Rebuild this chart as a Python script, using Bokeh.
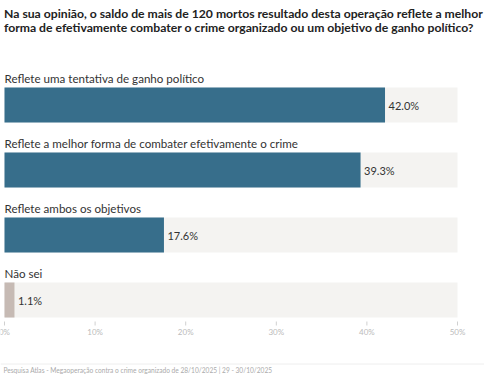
from bokeh.plotting import figure
from bokeh.models import Range1d, Label, Span
from bokeh.embed import file_html
from bokeh.resources import INLINE
from bokeh.core.properties import value

# ---- data ----
title_lines = [
    "Na sua opinião, o saldo de mais de 120 mortos resultado desta operação reflete a melhor",
    "forma de efetivamente combater o crime organizado ou um objetivo de ganho político?",
]
categories = [
    "Reflete uma tentativa de ganho político",
    "Reflete a melhor forma de combater efetivamente o crime",
    "Reflete ambos os objetivos",
    "Não sei",
]
values = [42.0, 39.3, 17.6, 1.1]
bar_colors = ["#376e8b", "#376e8b", "#376e8b", "#c6bab4"]
axis_max = 50
ticks = [0, 10, 20, 30, 40, 50]
tick_labels = ["0%", "10%", "20%", "30%", "40%", "50%"]
source_note = "Pesquisa Atlas - Megaoperação contra o crime organizado de 28/10/2025 | 29 - 30/10/2025"

# ---- layout ----
W, H = 484, 375
PX_PER_PCT = 9.06
LEFT = 4.0
ROW = 65.0
TOP = 104.5
BAR_H = 35.0

x_start = -LEFT / PX_PER_PCT
x_end = x_start + W / PX_PER_PCT
y_top = -TOP / ROW
y_bottom = y_top + H / ROW


def ypx(px):
    return y_top + px / ROW


idx = list(range(len(categories)))
FONT = value("Lato")

p = figure(width=W, height=H, x_range=Range1d(x_start, x_end),
           y_range=Range1d(y_bottom, y_top),
           output_backend="svg", toolbar_location=None,
           x_axis_location=None, y_axis_location=None,
           min_border=0, min_border_left=0, min_border_right=0,
           min_border_top=0, min_border_bottom=0)
p.grid.visible = False
p.outline_line_color = None
p.background_fill_color = "white"
p.border_fill_color = "white"

# background tracks
p.hbar(y=idx, left=0, right=[axis_max] * len(idx), height=BAR_H / ROW,
       fill_color="#f4f3f1", line_color=None)
# bars
p.hbar(y=idx, left=0, right=values, height=BAR_H / ROW,
       fill_color=bar_colors, line_color=None)

# category labels
p.text(x=[0] * len(idx), y=[i - 26.5 / ROW for i in idx], text=categories,
       text_font=FONT, text_font_size="11.6px", text_color="#333333",
       text_align="left", text_baseline="middle", x_offset=0)

# value labels
p.text(x=values, y=idx, text=[f"{v:.1f}%" for v in values],
       text_font=FONT, text_font_size="11px", text_color="#333333",
       text_align="left", text_baseline="middle", x_offset=3.5)

# ticks
p.segment(x0=ticks, x1=ticks, y0=[ypx(321)] * len(ticks), y1=[ypx(325)] * len(ticks),
          line_color="#d0d0d0", line_width=1)
p.text(x=ticks, y=[ypx(331)] * len(ticks), text=tick_labels,
       text_font=FONT, text_font_size="8px", text_color="#bbbbbb",
       text_align="center", text_baseline="middle")

# title
for k, line in enumerate(title_lines):
    p.add_layout(Label(x=0, y=ypx(13 + 14 * k), text=line, x_offset=-0.5,
                       text_font="Lato", text_font_style="bold",
                       text_font_size="12.2px", text_color="#222222",
                       text_align="left", text_baseline="middle"))

# footer
p.add_layout(Span(location=ypx(363.5), dimension="width", line_color="#eeeeee", line_width=1))
p.add_layout(Label(x=0, y=ypx(369.5), text=source_note, x_offset=-1,
                   text_font="Lato", text_font_size="6.6px", text_color="#aaaaaa",
                   text_align="left", text_baseline="middle"))

open("out.html", "w").write(file_html(p, INLINE))
